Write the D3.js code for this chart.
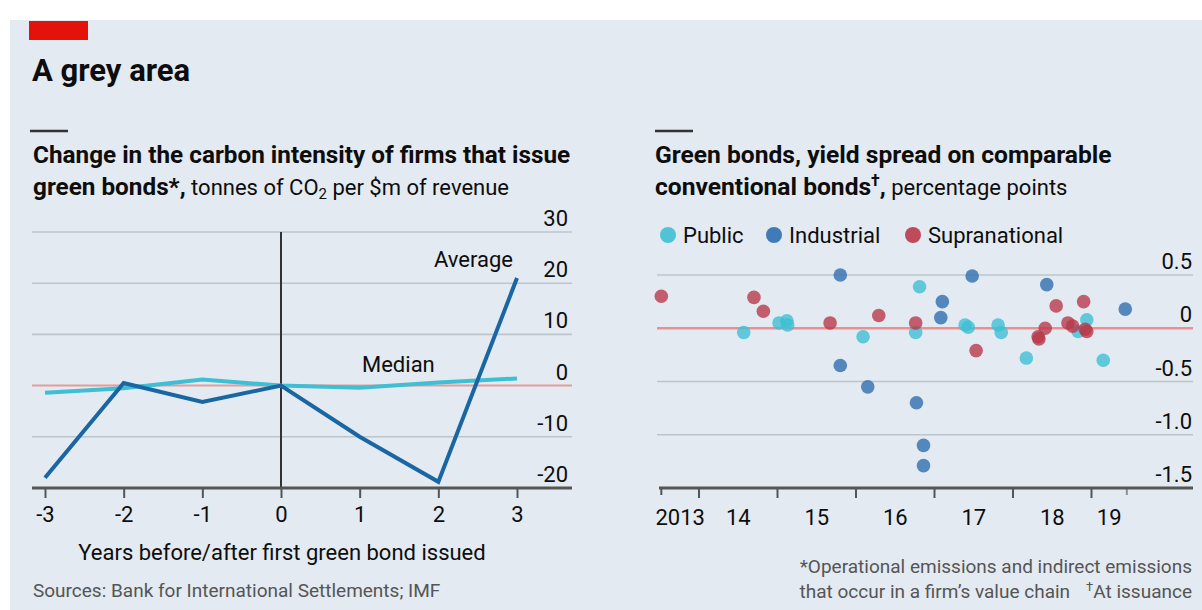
<!DOCTYPE html>
<html>
<head>
<meta charset="utf-8">
<script src="https://cdn.jsdelivr.net/npm/d3@7"></script>
<style>
  html, body { margin: 0; padding: 0; background: #ffffff; }
  svg { display: block; }
  text { font-family: Roboto, "Noto Sans", sans-serif; fill: #0d0d0d; }
</style>
</head>
<body>
<svg id="chart" width="1202" height="610"></svg>
<script>
// ---- Left panel: change in carbon intensity (tonnes of CO2 per $m of revenue)
const yearsRel = [-3, -2, -1, 0, 1, 2, 3];
const averageChange = [-18, 0.5, -3.2, 0, -10, -18.8, 21];
const medianChange = [-1.4, -0.5, 1.2, 0, -0.4, 0.6, 1.4];
const leftTicks = [-20, -10, 0, 10, 20, 30];

// ---- Right panel: green-bond yield spread, percentage points [issue date, spread]
const publicBonds = [
  [2014.57, -0.04], [2015.02, 0.05], [2015.12, 0.07], [2015.13, 0.03],
  [2016.09, -0.08], [2016.81, 0.39], [2016.76, -0.04], [2017.39, 0.03],
  [2017.43, 0.01], [2017.81, 0.03], [2017.85, -0.04], [2018.17, -0.28],
  [2018.83, -0.03], [2018.94, 0.08], [2019.15, -0.30]
];
const industrialBonds = [
  [2015.80, 0.50], [2015.80, -0.35], [2016.15, -0.55], [2016.77, -0.70],
  [2016.86, -1.10], [2016.86, -1.29], [2017.08, 0.10], [2017.10, 0.25],
  [2017.48, 0.49], [2018.43, 0.41], [2019.43, 0.18]
];
const supranationalBonds = [
  [2013.52, 0.30], [2014.70, 0.29], [2014.82, 0.16], [2015.67, 0.05],
  [2016.29, 0.12], [2016.76, 0.05], [2017.53, -0.21], [2018.32, -0.08],
  [2018.33, -0.10], [2018.41, 0.00], [2018.55, 0.21], [2018.70, 0.05],
  [2018.76, 0.02], [2018.90, 0.25], [2018.92, -0.01], [2018.94, -0.03]
];
const rightTicks = [-1.5, -1.0, -0.5, 0, 0.5];
const rightTickLabels = ["-1.5", "-1.0", "-0.5", "0", "0.5"];
const dateTicks = [2013.52, 2014, 2015, 2016, 2017, 2018, 2019, 2019.45];
const dateLabels = ["2013", "14", "15", "16", "17", "18", "19"];
const seriesNames = ["Public", "Industrial", "Supranational"];
const seriesColors = ["#3fbfd4", "#2f6fb0", "#b83a4b"];

const svg = d3.select("#chart");

// panel background and red tag
svg.append("rect").attr("x", 10).attr("y", 20).attr("width", 1192).attr("height", 590).attr("fill", "#e3eaf1");
svg.append("rect").attr("x", 29).attr("y", 21).attr("width", 59).attr("height", 19).attr("fill", "#e3120b");
svg.append("text").attr("x", 32).attr("y", 81).attr("font-size", 31).attr("font-weight", 700).text("A grey area");

// ================= LEFT PANEL =================
const xL = d3.scaleLinear().domain([-3, 3]).range([45, 517]);
const yL = d3.scaleLinear().domain([-20, 30]).range([488, 232]);
const left = svg.append("g");

left.append("line").attr("x1", 30).attr("x2", 68).attr("y1", 131).attr("y2", 131).attr("stroke", "#333").attr("stroke-width", 2.5);
left.append("text").attr("x", 33).attr("y", 163).attr("font-size", 24.3).attr("font-weight", 700)
  .text("Change in the carbon intensity of firms that issue");
const sub2 = left.append("text").attr("x", 33).attr("y", 195).attr("font-size", 22);
sub2.append("tspan").attr("font-weight", 700).attr("font-size", 24.3).text("green bonds*,");
sub2.append("tspan").text(" tonnes of CO");
sub2.append("tspan").attr("font-size", 15).attr("dy", 4).text("2");
sub2.append("tspan").attr("dy", -4).text(" per $m of revenue");

// gridlines with labels sitting on the right end
left.append("g").selectAll("line").data(leftTicks.filter(d => d > -20)).join("line")
  .attr("x1", 32).attr("x2", 572)
  .attr("y1", d => yL(d)).attr("y2", d => yL(d))
  .attr("stroke", d => d === 0 ? "#e39b9b" : "#bcc5cc").attr("stroke-width", d => d === 0 ? 2 : 1.6);
left.append("g").selectAll("text").data(leftTicks).join("text")
  .attr("x", 568).attr("y", d => yL(d) - 6).attr("text-anchor", "end").attr("font-size", 22)
  .text(d => d);

// vertical marker at year of first issue
left.append("line").attr("x1", xL(0)).attr("x2", xL(0)).attr("y1", yL(30)).attr("y2", yL(-20))
  .attr("stroke", "#333").attr("stroke-width", 2);

// bottom axis
const axisL = left.append("g").attr("transform", `translate(0,${yL(-20)})`)
  .call(d3.axisBottom(xL).tickValues(yearsRel).tickSize(10).tickPadding(8).tickFormat(d => d));
axisL.select(".domain").remove();
axisL.selectAll(".tick line").attr("stroke", "#555").attr("stroke-width", 2);
axisL.selectAll(".tick text").attr("font-size", 22).attr("font-family", "Roboto, sans-serif").attr("fill", "#0d0d0d");
left.append("line").attr("x1", 32).attr("x2", 572).attr("y1", yL(-20)).attr("y2", yL(-20))
  .attr("stroke", "#555").attr("stroke-width", 3);

const lineL = d3.line().x((d, i) => xL(yearsRel[i])).y(d => yL(d));
left.append("path").datum(medianChange).attr("d", lineL).attr("fill", "none")
  .attr("stroke", "#3fbfd4").attr("stroke-width", 4);
left.append("path").datum(averageChange).attr("d", lineL).attr("fill", "none")
  .attr("stroke", "#1a66a3").attr("stroke-width", 4).attr("stroke-linejoin", "miter");

left.append("text").attr("x", 513).attr("y", 267).attr("text-anchor", "end").attr("font-size", 22).text("Average");
left.append("text").attr("x", 362).attr("y", 372).attr("font-size", 22).text("Median");

left.append("text").attr("x", 282).attr("y", 560).attr("text-anchor", "middle").attr("font-size", 22)
  .text("Years before/after first green bond issued");
left.append("text").attr("x", 33).attr("y", 597).attr("font-size", 19).style("fill", "#555")
  .text("Sources: Bank for International Settlements; IMF");

// ================= RIGHT PANEL =================
const xR = d3.scaleLinear().domain([2013, 2020]).range([620.5, 1170]);
const yR = d3.scaleLinear().domain([-1.5, 0.5]).range([488, 275]);
const right = svg.append("g");

right.append("line").attr("x1", 655).attr("x2", 693).attr("y1", 131).attr("y2", 131).attr("stroke", "#333").attr("stroke-width", 2.5);
right.append("text").attr("x", 655).attr("y", 163).attr("font-size", 24.6).attr("font-weight", 700)
  .text("Green bonds, yield spread on comparable");
const rsub = right.append("text").attr("x", 655).attr("y", 195).attr("font-size", 22);
rsub.append("tspan").attr("font-weight", 700).attr("font-size", 24.6).text("conventional bonds");
rsub.append("tspan").attr("font-weight", 700).attr("font-size", 16).attr("dy", -9).text("†");
rsub.append("tspan").attr("font-weight", 700).attr("font-size", 24.6).attr("dy", 9).text(",");
rsub.append("tspan").text(" percentage points");

// legend
const legend = right.append("g").selectAll("g").data(seriesNames).join("g")
  .attr("transform", (d, i) => `translate(${[668, 774, 913][i]},235)`);
legend.append("circle").attr("r", 8).attr("fill", (d, i) => seriesColors[i]).attr("opacity", 0.9);
legend.append("text").attr("x", 15).attr("y", 8).attr("font-size", 22).text(d => d);

// gridlines and labels
right.append("g").selectAll("line").data(rightTicks.filter(d => d > -1.5)).join("line")
  .attr("x1", 657).attr("x2", 1193).attr("y1", d => yR(d)).attr("y2", d => yR(d))
  .attr("stroke", d => d === 0 ? "#ee8f8f" : "#bcc5cc").attr("stroke-width", d => d === 0 ? 2.5 : 1.6);
right.append("g").selectAll("text").data(rightTicks).join("text")
  .attr("x", 1192).attr("y", d => yR(d) - 6).attr("text-anchor", "end").attr("font-size", 22)
  .text((d, i) => rightTickLabels[i]);

// time axis: ticks at year boundaries, labels centred between them
right.append("g").selectAll("line").data(dateTicks).join("line")
  .attr("x1", d => xR(d)).attr("x2", d => xR(d)).attr("y1", yR(-1.5))
  .attr("y2", (d, i) => yR(-1.5) + (i === 0 || i === dateTicks.length - 1 ? 7 : 10))
  .attr("stroke", (d, i) => i === dateTicks.length - 1 ? "#8a9096" : "#555").attr("stroke-width", 2);
right.append("line").attr("x1", 659).attr("x2", 1193).attr("y1", yR(-1.5)).attr("y2", yR(-1.5))
  .attr("stroke", "#555").attr("stroke-width", 3);
right.append("g").selectAll("text").data(dateLabels).join("text")
  .attr("x", (d, i) => (xR(dateTicks[i]) + xR(dateTicks[i + 1])) / 2)
  .attr("y", 525).attr("text-anchor", "middle").attr("font-size", 22).text(d => d);

// scatter dots
const dots = right.append("g");
[publicBonds, industrialBonds, supranationalBonds].forEach((series, k) => {
  dots.append("g").selectAll("circle").data(series).join("circle")
    .attr("cx", d => xR(d[0])).attr("cy", d => yR(d[1])).attr("r", 6.8)
    .attr("fill", seriesColors[k]).attr("opacity", 0.8);
});

// footnotes
const foot = right.append("g");
foot.append("text").attr("x", 1192).attr("y", 573).attr("text-anchor", "end").attr("font-size", 19).style("fill", "#555")
  .text("*Operational emissions and indirect emissions");
const f2 = foot.append("text").attr("x", 1192).attr("y", 598).attr("text-anchor", "end").attr("font-size", 19).style("fill", "#555");
f2.append("tspan").text("that occur in a firm’s value chain");
f2.append("tspan").attr("font-size", 13).attr("dx", 16).attr("dy", -7).text("†");
f2.append("tspan").attr("dy", 7).text("At issuance");
</script>
</body>
</html>
